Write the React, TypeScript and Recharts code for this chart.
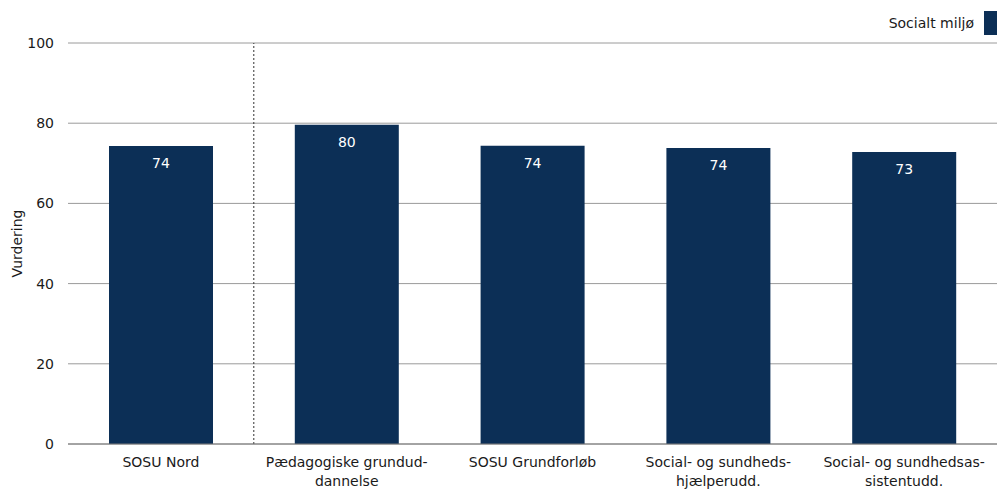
import React from "react";
import { BarChart, Bar, XAxis, YAxis, CartesianGrid, LabelList, ReferenceLine, Label } from "recharts";

const categories = ["SOSU Nord", "Pædagogiske grundud-\ndannelse", "SOSU Grundforløb", "Social- og sundheds-\nhjælperudd.", "Social- og sundhedsas-\nsistentudd."];
const socialtMiljo = [74.3, 79.6, 74.4, 73.8, 72.8];
const yTicks = [0, 20, 40, 60, 80, 100];
const seriesName = "Socialt miljø";
const yLabel = "Vurdering";

const data = categories.map((c, i) => ({ name: c, value: socialtMiljo[i] }));

const FONT = "'DejaVu Sans', Verdana, sans-serif";
const BAR = "#0c2f56";

const XTick = (props: any) => {
  const { x, y, payload } = props;
  const lines = String(payload.value).split("\n");
  return (
    <g>
      {lines.map((l: string, i: number) => (
        <text key={i} x={x} y={y + 15 + i * 19} textAnchor="middle" fontSize={14} fontFamily={FONT} fill="#1a1a1a">
          {l}
        </text>
      ))}
    </g>
  );
};

export default function App() {
  return (
    <div style={{ position: "absolute", left: 0, top: 0, width: 997, height: 489, background: "#fff", fontFamily: FONT }}>
      <div style={{ position: "absolute", right: 0, top: 11, display: "flex", alignItems: "center", fontSize: 14, color: "#1a1a1a" }}>
        <span style={{ marginRight: 10 }}>{seriesName}</span>
        <span style={{ display: "inline-block", width: 13, height: 24, background: BAR }} />
      </div>
      <BarChart width={997} height={489} data={data} margin={{ top: 43, right: 0, bottom: 0, left: 0 }}>
        <CartesianGrid vertical={false} stroke="#9a9a9a" strokeWidth={1} />
        <XAxis dataKey="name" height={45} tickLine={false} axisLine={{ stroke: "#7a7a7a" }} tick={<XTick />} interval={0} />
        <YAxis
          width={68}
          domain={[0, 100]}
          ticks={yTicks}
          tickLine={false}
          axisLine={false}
          tick={{ fontSize: 14, fontFamily: FONT, fill: "#1a1a1a" }}
          tickMargin={8}
        >
          <Label value={yLabel} angle={-90} position="insideLeft" offset={17} style={{ fontSize: 14, fontFamily: FONT, fill: "#1a1a1a", textAnchor: "middle" }} />
        </YAxis>
        <ReferenceLine x={categories[0]} position="end" stroke="#333" strokeDasharray="2 2" strokeWidth={1} />
        <Bar dataKey="value" name={seriesName} fill={BAR} barSize={104} isAnimationActive={false}>
          <LabelList
            dataKey="value"
            position="insideTop"
            offset={12}
            formatter={(v: any) => Math.round(Number(v))}
            style={{ fill: "#ffffff", fontSize: 14, fontFamily: FONT }}
          />
        </Bar>
      </BarChart>
    </div>
  );
}
